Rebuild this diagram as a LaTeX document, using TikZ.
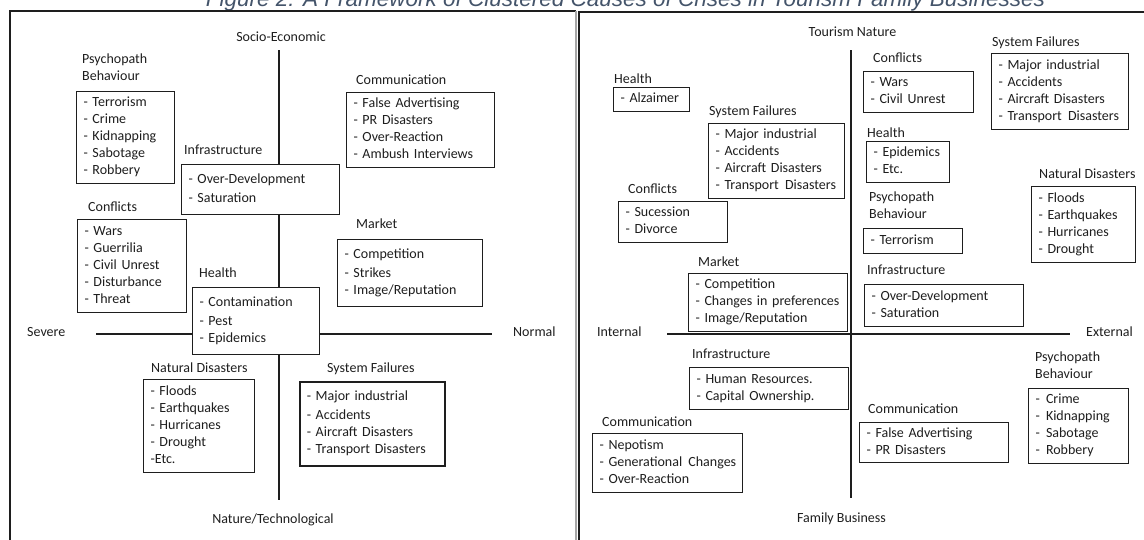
\documentclass[tikz,border=0pt]{standalone}
\usepackage{fontspec}
\setmainfont{Carlito}
\newfontfamily\captionfont{Liberation Sans}
\definecolor{captionblue}{HTML}{44546A}
\definecolor{inkgray}{HTML}{1E1E1E}
\newcommand{\itemlist}[1]{\begin{tabular}{@{}l@{}}#1\end{tabular}}
\newcommand{\wsp}{\ \hspace{1.5pt}}
\begin{document}
\begin{tikzpicture}[x=1pt,y=-1pt,every node/.style={text=inkgray}]
        \tikzstyle{catlabel}=[anchor=west, inner sep=0pt, text height=9pt, text depth=0pt, font=\fontsize{14}{17}\selectfont]
        \tikzstyle{catlabeltwo}=[anchor=west, inner sep=0pt, font=\fontsize{14}{17}\selectfont]
        \tikzstyle{axislabel}=[inner sep=0pt, text height=9pt, text depth=0pt, font=\fontsize{14}{17}\selectfont]
        \tikzstyle{listbox}=[draw=inkgray, fill=white, line width=1.1pt, anchor=north west, inner xsep=7pt, inner ysep=0pt, align=left, font=\fontsize{14}{17}\selectfont]
        \tikzstyle{axis}=[draw=inkgray, line width=2pt]
        \tikzstyle{frame}=[draw=inkgray, line width=1.4pt]
        \useasboundingbox (0,0) rectangle (1144,539);
        % caption, cut off by the top edge
        \node[anchor=base, inner sep=0pt, text=captionblue, font=\captionfont\itshape\fontsize{22.5}{26}\selectfont] (caption) at (625.5,6.5) {Figure 2: A Framework of Clustered Causes of Crises in Tourism Family Businesses};
        % panel frames
        \draw[frame] (10,545) -- (10,11) -- (576,11);
        \draw[frame, draw=gray!70] (576,11) -- (576,545);
        \draw[frame, line width=2pt] (579,545) -- (579,12) -- (1150,12);
        % left panel axes
        \coordinate (lTop) at (279,50);
        \coordinate (lBottom) at (279,500);
        \coordinate (lLeft) at (96,334);
        \coordinate (lRight) at (492,334);
        \draw[axis] (lTop) -- (lBottom);
        \draw[axis] (lLeft) -- (lRight);
        \node[axislabel] (socio) at (281,37) {Socio-Economic};
        \node[axislabel] (nature) at (273,519) {Nature/Technological};
        \node[axislabel, anchor=west] (severe) at (27,332) {Severe};
        \node[axislabel, anchor=west] (normal) at (513,332) {Normal};
        % left panel clusters
        \node[catlabeltwo] (lPsy) at (82,69) {\itemlist{Psychopath\\Behaviour}};
        \node[listbox, text width=84pt, minimum height=92pt] (lPsyBox) at (76,91) {\itemlist{- Terrorism\\- Crime\\- Kidnapping\\- Sabotage\\- Robbery}};
        \node[catlabel] (lInfra) at (184,150) {Infrastructure};
        \node[listbox, text width=144pt, minimum height=50pt] (lInfraBox) at (181,164) {\itemlist{- Over-Development\\[2pt]- Saturation}};
        \node[catlabel] (lConfl) at (88,207) {Conflicts};
        \node[listbox, text width=95pt, minimum height=93pt] (lConflBox) at (77,219) {\itemlist{- Wars\\- Guerrilia\\- Civil Unrest\\- Disturbance\\- Threat}};
        \node[catlabel] (lHealth) at (199,273) {Health};
        \node[listbox, text width=113pt, minimum height=67pt] (lHealthBox) at (192,287) {\itemlist{- Contamination\\[2pt]- Pest\\- Epidemics}};
        \node[catlabel] (lComm) at (356,80) {Communication};
        \node[listbox, text width=134pt, minimum height=75pt] (lCommBox) at (346,92) {\itemlist{- False Advertising\\- PR Disasters\\- Over-Reaction\\- Ambush Interviews}};
        \node[catlabel] (lMarket) at (356,224) {Market};
        \node[listbox, text width=131pt, minimum height=67pt] (lMarketBox) at (337,239) {\itemlist{- Competition\\[2pt]- Strikes\\- Image/Reputation}};
        \node[catlabel] (lNat) at (151,368) {Natural Disasters};
        \node[listbox, text width=97pt, minimum height=93pt] (lNatBox) at (143,379) {\itemlist{- Floods\\- Earthquakes\\- Hurricanes\\- Drought\\-Etc.}};
        \node[catlabel] (lSys) at (327,368) {System Failures};
        \node[listbox, line width=1.6pt, text width=131pt, minimum height=84pt] (lSysBox) at (299,381) {\itemlist{- Major industrial\\[2pt]- Accidents\\- Aircraft Disasters\\- Transport Disasters}};
        % right panel axes
        \coordinate (rTop) at (851,50);
        \coordinate (rBottom) at (851,498);
        \coordinate (rLeft) at (667,334);
        \coordinate (rRight) at (1070,334);
        \draw[axis, line width=2.4pt] (rTop) -- (rBottom);
        \draw[axis, line width=2.4pt] (rLeft) -- (rRight);
        \node[axislabel] (tourism) at (852.5,32) {Tourism Nature};
        \node[axislabel] (family) at (841.5,518) {Family Business};
        \node[axislabel, anchor=west] (internal) at (597,332) {Internal};
        \node[axislabel, anchor=west] (external) at (1086,332) {External};
        % right panel, internal side
        \node[catlabel] (rHealthIn) at (614,79) {Health};
        \node[listbox, text width=62pt, minimum height=24pt] (rHealthInBox) at (613,87) {\itemlist{- Alzaimer}};
        \node[catlabel] (rSysIn) at (709,111) {System Failures};
        \node[listbox, text width=122pt, minimum height=75pt] (rSysInBox) at (708,123) {\itemlist{- Major industrial\\- Accidents\\- Aircraft Disasters\\- Transport\wsp Disasters}};
        \node[catlabel] (rConflIn) at (628,189) {Conflicts};
        \node[listbox, text width=95pt, minimum height=41pt] (rConflInBox) at (618,201) {\itemlist{- Sucession\\- Divorce}};
        \node[catlabel] (rMarketIn) at (698,262) {Market};
        \node[listbox, text width=145pt, minimum height=58pt] (rMarketInBox) at (688,273) {\itemlist{- Competition\\- Changes in preferences\\- Image/Reputation}};
        \node[catlabel] (rInfraIn) at (692,354) {Infrastructure};
        \node[listbox, text width=145pt, minimum height=42pt] (rInfraInBox) at (689,367) {\itemlist{- Human Resources.\\- Capital Ownership.}};
        \node[catlabel] (rCommIn) at (602,422) {Communication};
        \node[listbox, text width=136pt, minimum height=59pt] (rCommInBox) at (592,433) {\itemlist{- Nepotism\\- Generational\wsp Changes\\- Over-Reaction}};
        % right panel, external side
        \node[catlabel] (rConflEx) at (873,58) {Conflicts};
        \node[listbox, text width=96pt, minimum height=41pt] (rConflExBox) at (863,71) {\itemlist{- Wars\\- Civil Unrest}};
        \node[catlabel] (rSysEx) at (992,42) {System Failures};
        \node[listbox, text width=123pt, minimum height=76pt] (rSysExBox) at (991,53) {\itemlist{- Major industrial\\- Accidents\\- Aircraft Disasters\\- Transport\wsp Disasters}};
        \node[catlabel] (rHealthEx) at (867,133) {Health};
        \node[listbox, text width=69pt, minimum height=41pt] (rHealthExBox) at (866,141) {\itemlist{- Epidemics\\- Etc.}};
        \node[catlabel] (rNatEx) at (1039,174) {Natural Disasters};
        \node[listbox, text width=90pt, minimum height=76pt] (rNatExBox) at (1031,186) {\itemlist{- Floods\\- Earthquakes\\- Hurricanes\\- Drought}};
        \node[catlabeltwo] (rPsyEx) at (869,207) {\itemlist{Psychopath\\Behaviour}};
        \node[listbox, text width=85pt, minimum height=25pt] (rPsyExBox) at (863,228) {\itemlist{- Terrorism}};
        \node[catlabel] (rInfraEx) at (867,270) {Infrastructure};
        \node[listbox, text width=145pt, minimum height=42pt] (rInfraExBox) at (864,284) {\itemlist{- Over-Development\\- Saturation}};
        \node[catlabeltwo] (rPsyLow) at (1035,367) {\itemlist{Psychopath\\Behaviour}};
        \node[listbox, text width=86pt, minimum height=75pt] (rPsyLowBox) at (1028,388) {\itemlist{-\wsp Crime\\-\wsp Kidnapping\\-\wsp Sabotage\\-\wsp Robbery}};
        \node[catlabel] (rCommEx) at (868,409) {Communication};
        \node[listbox, text width=135pt, minimum height=40pt] (rCommExBox) at (859,422) {\itemlist{- False Advertising\\- PR Disasters}};
\end{tikzpicture}
\end{document}
